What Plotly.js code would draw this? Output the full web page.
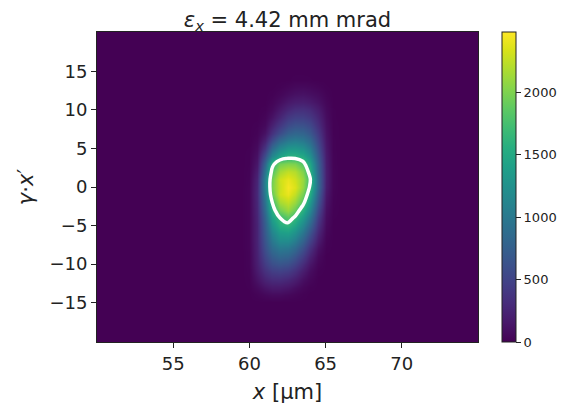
<!DOCTYPE html>
<html>
<head>
<meta charset="utf-8">
<script src="https://cdn.plot.ly/plotly-3.0.1.min.js"></script>
<style>html,body{margin:0;padding:0;background:#fff}#chart{width:571px;height:410px}</style>
</head>
<body>
<div id="chart"></div>
<script>
// Bin centres (x in µm, y = gamma*x')
const xCenters = [59.5, 60.0, 60.5, 61.0, 61.5, 62.0, 62.5, 63.0, 63.5, 64.0, 64.5, 65.0, 65.5, 66.0];
const yCenters = [-15,-14,-13,-12,-11,-10,-9,-8,-7,-6,-5,-4,-3,-2,-1,0,1,2,3,4,5,6,7,8,9,10,11,12,13,14,15];
// Counts per bin, one row per y value (bottom to top)
const counts = [
  [0,0,0,0,0,0,0,0,0,0,0,0,0,0],
  [0,0,20,50,70,70,50,30,10,0,0,0,0,0],
  [0,5,60,130,170,170,140,90,40,10,0,0,0,0],
  [0,10,120,240,300,310,270,200,100,40,0,0,0,0],
  [0,15,170,340,440,470,430,330,190,80,10,0,0,0],
  [0,20,200,430,580,640,600,480,300,140,30,0,0,0],
  [0,20,220,520,720,820,790,650,440,230,60,0,0,0],
  [0,25,230,600,860,1000,980,840,600,340,110,10,0,0],
  [0,25,240,650,980,1180,1180,1030,760,470,180,20,0,0],
  [0,25,240,700,1100,1350,1380,1230,950,620,260,40,0,0],
  [0,25,240,740,1250,1550,1620,1450,1150,800,350,60,0,0],
  [0,25,250,800,1400,1700,1850,1650,1350,980,440,80,5,0],
  [0,25,260,880,1560,1950,2100,1900,1550,1150,540,100,10,0],
  [0,25,270,950,1700,2150,2250,2100,1800,1330,660,130,15,0],
  [0,25,280,1030,1900,2300,2400,2250,1950,1520,760,160,20,0],
  [0,25,270,1080,1980,2280,2450,2350,2080,1650,850,190,25,0],
  [0,20,250,1080,1950,2300,2400,2300,2100,1700,850,200,25,0],
  [0,15,200,950,1800,2150,2250,2200,2000,1580,820,200,25,0],
  [0,10,150,800,1600,1950,2000,1980,1800,1450,780,190,20,0],
  [0,10,110,600,1150,1450,1580,1580,1500,1250,700,180,20,0],
  [0,5,70,380,850,1150,1300,1320,1250,1050,600,160,15,0],
  [0,0,40,220,560,850,1000,1050,1000,850,500,140,15,0],
  [0,0,20,120,350,580,760,820,800,680,420,120,10,0],
  [0,0,10,60,220,400,560,630,620,540,330,100,10,0],
  [0,0,0,30,120,260,400,460,460,400,260,80,5,0],
  [0,0,0,10,60,160,260,320,330,290,190,60,5,0],
  [0,0,0,0,30,90,160,200,210,180,120,40,0,0],
  [0,0,0,0,10,40,80,110,120,100,70,20,0,0],
  [0,0,0,0,0,10,30,50,55,45,25,5,0,0],
  [0,0,0,0,0,0,0,10,10,5,0,0,0,0],
  [0,0,0,0,0,0,0,0,0,0,0,0,0,0]
];
const contourLevel = 1700;
const colorbarTicks = [0, 500, 1000, 1500, 2000];
const xTicks = [55, 60, 65, 70];
const yTicks = [-15, -10, -5, 0, 5, 10, 15];
const titleText = '<i>ε</i><sub><i>x</i></sub> = 4.42 mm mrad';

const font = 'DejaVu Sans, Arial, sans-serif';

const heat = {
  type: 'heatmap', x: xCenters, y: yCenters, z: counts,
  colorscale: 'Viridis', zmin: 0, zmax: 2480, zsmooth: 'best',
  hoverinfo: 'skip',
  colorbar: {
    x: 1.063, xanchor: 'left', xref: 'paper', xpad: 0,
    y: 0.5, yanchor: 'middle', len: 1, lenmode: 'fraction', ypad: 0,
    thickness: 14, outlinewidth: 1, outlinecolor: '#222',
    tickvals: colorbarTicks, ticks: 'outside', ticklen: 5, tickcolor: '#222',
    tickprefix: ' ',
    tickfont: {family: font, size: 13, color: '#222'}
  }
};
const line = {
  type: 'contour', x: xCenters, y: yCenters, z: counts,
  contours: {start: contourLevel, end: contourLevel, size: 100, coloring: 'none'},
  line: {color: 'white', width: 3.5, smoothing: 0.8},
  showscale: false, hoverinfo: 'skip'
};

const layout = {
  width: 571, height: 410,
  margin: {l: 97, r: 93, t: 32, b: 68},
  paper_bgcolor: 'white', plot_bgcolor: '#440154',
  font: {family: font, color: '#222'},
  title: {text: titleText, font: {family: font, size: 21, color: '#222'},
          x: 0.5, xref: 'paper', xanchor: 'center', y: 0.952, yref: 'container', yanchor: 'middle'},
  xaxis: {
    range: [50, 75], tickvals: xTicks, ticks: 'outside', ticklen: 5, tickcolor: '#222',
    showline: true, mirror: true, linecolor: '#222', linewidth: 1,
    showgrid: false, zeroline: false, tickfont: {family: font, size: 18, color: '#222'},
    title: {text: '<i>x</i> [µm]', font: {family: font, size: 21, color: '#222'}, standoff: 11}
  },
  yaxis: {
    range: [-20.1, 20.1], tickvals: yTicks, ticks: 'outside', ticklen: 5, tickcolor: '#222',
    showline: true, mirror: true, linecolor: '#222', linewidth: 1,
    showgrid: false, zeroline: false, tickfont: {family: font, size: 18, color: '#222'},
    title: {text: '<i>γ</i>·<i>x</i>′', font: {family: font, size: 21, color: '#222'}, standoff: 10}
  },
  showlegend: false
};

Plotly.newPlot('chart', [heat, line], layout, {displayModeBar: false, staticPlot: true});
</script>
</body>
</html>
